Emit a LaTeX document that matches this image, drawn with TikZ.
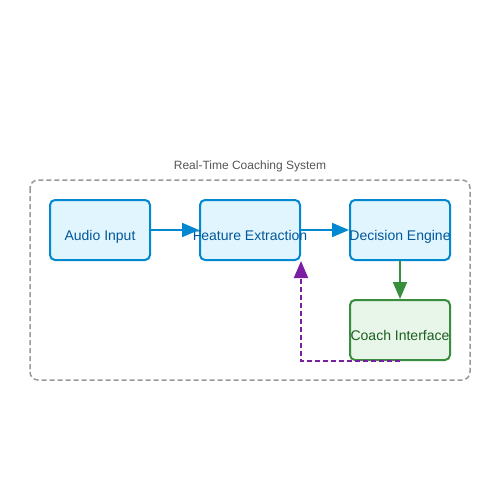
\documentclass[tikz,border=0pt]{standalone}
\usepackage{fontspec}
\setmainfont{Liberation Sans}
\usetikzlibrary{arrows.meta}
\definecolor{bluefill}{HTML}{E1F5FE}
\definecolor{bluedraw}{HTML}{0288D1}
\definecolor{bluetext}{HTML}{01579B}
\definecolor{greenfill}{HTML}{E8F5E9}
\definecolor{greendraw}{HTML}{388E3C}
\definecolor{greentext}{HTML}{1B5E20}
\definecolor{purpleline}{HTML}{7B1FA2}
\definecolor{groupgrey}{HTML}{999999}
\definecolor{titlegrey}{HTML}{555555}
\newcommand{\boxlabel}[1]{\makebox[0pt][c]{#1}}
\tikzset{
  box/.style={draw=bluedraw, fill=bluefill, text=bluetext, line width=2pt, rounded corners=5pt,
    minimum width=100pt, minimum height=60pt, inner sep=0pt, text height=20pt, text depth=0pt,
    font=\fontsize{14}{16}\selectfont},
  greenbox/.style={box, draw=greendraw, fill=greenfill, text=greentext},
  tip/.style={-{Triangle[length=17pt,width=14pt]}},
  flow/.style={draw=bluedraw, line width=2pt, tip},
  greenflow/.style={flow, draw=greendraw},
  feedback/.style={draw=purpleline, line width=2pt, dash pattern=on 5pt off 3pt, tip},
  group/.style={draw=groupgrey, line width=1.5pt, dash pattern=on 5pt off 3pt, rounded corners=8pt},
}
\begin{document}
\begin{tikzpicture}[x=1pt,y=-1pt]
\useasboundingbox (0,0) rectangle (500,500);
\draw[group] (30,180) rectangle (470,380);
\node[text=titlegrey, font=\fontsize{12}{14}\selectfont] (title) at (250,166) {Real-Time Coaching System};
\node[box] (audio) at (100,230) {\boxlabel{Audio Input}};
\node[box] (feat) at (250,230) {\boxlabel{Feature Extraction}};
\node[box] (dec) at (400,230) {\boxlabel{Decision Engine}};
\node[greenbox] (coach) at (400,330) {\boxlabel{Coach Interface}};
\draw[flow] (audio.east) -- (feat.west);
\draw[flow] (feat.east) -- (dec.west);
\draw[greenflow] (dec.south) -- (coach.north);
\draw[feedback] (coach.south) -| (feat.south east);
\end{tikzpicture}
\end{document}
